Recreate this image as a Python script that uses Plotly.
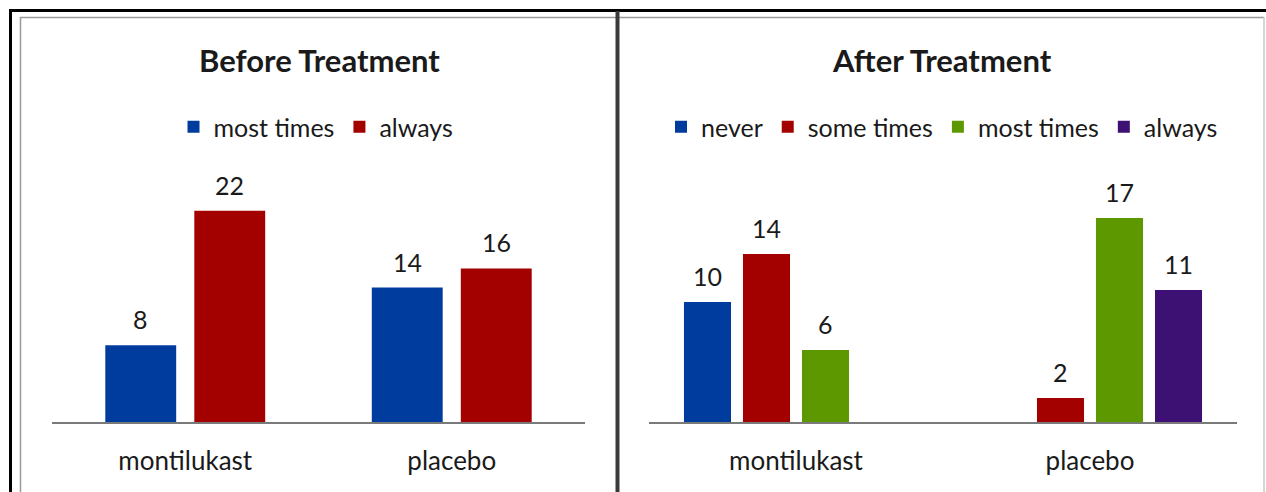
import plotly.graph_objects as go

W, H = 1266, 492

# ---------------- data ----------------
categories = ["montilukast", "placebo"]

before_series = ["most times", "always"]
before_most_times = [8, 14]
before_always = [22, 16]

after_series = ["never", "some times", "most times", "always"]
after_never = [10, None]
after_some_times = [14, 2]
after_most_times = [6, 17]
after_always = [None, 11]

# ---------------- styles ----------------
BLUE = "#003C9E"
RED = "#A30000"
GREEN = "#5E9800"
PURPLE = "#3D1173"
TEXT = "#1a1a1a"
FONT = "Lato, 'Open Sans', sans-serif"

# bar geometry in category units
L_BAR_W, L_STEP = 0.266, 0.334
R_BAR_W, R_STEP = 0.160, 0.2007


def px_x(x):
    return x / W


def px_y(y):
    return 1 - y / H


fig = go.Figure()

before = [(before_series[0], before_most_times, BLUE),
          (before_series[1], before_always, RED)]
after = [(after_series[0], after_never, BLUE),
         (after_series[1], after_some_times, RED),
         (after_series[2], after_most_times, GREEN),
         (after_series[3], after_always, PURPLE)]

annotations = []


def add_group(series, xaxis, yaxis, legend, bw, step):
    n = len(series)
    for k, (name, vals, col) in enumerate(series):
        center = (k - (n - 1) / 2) * step
        off = center - bw / 2
        xs = list(range(len(categories)))
        fig.add_trace(go.Bar(
            x=xs, y=vals, name=name, marker=dict(color=col, line=dict(width=0)),
            width=bw, offset=off, xaxis=xaxis, yaxis=yaxis, legend=legend,
            hoverinfo="skip"))
        for xi, v in zip(xs, vals):
            if v is None:
                continue
            annotations.append(dict(
                x=xi + center, y=v, xref=xaxis, yref=yaxis, text=str(v),
                showarrow=False, yanchor="bottom", yshift=9,
                font=dict(size=25, color=TEXT, family=FONT)))


add_group(before, "x", "y", "legend", L_BAR_W, L_STEP)
add_group(after, "x2", "y2", "legend2", R_BAR_W, R_STEP)

axis_common = dict(
    tickmode="array", tickvals=[0, 1], ticktext=categories,
    range=[-0.5, 1.5], showgrid=False, zeroline=False,
    showline=True, linecolor="#7a7a7a", linewidth=2,
    ticks="outside", ticklen=15, tickcolor="rgba(0,0,0,0)",
    tickfont=dict(size=26, color=TEXT, family=FONT), fixedrange=True)

y_bottom = px_y(422)
y_top = px_y(150)

legend_common = dict(orientation="h", xanchor="center", yanchor="middle",
                     font=dict(size=25, color=TEXT, family=FONT),
                     bgcolor="rgba(0,0,0,0)", itemclick=False,
                     itemdoubleclick=False)

fig.update_layout(
    width=W, height=H, margin=dict(l=0, r=0, t=0, b=0),
    paper_bgcolor="white", plot_bgcolor="white",
    barmode="overlay", showlegend=True,
    font=dict(family=FONT, color=TEXT),
    xaxis=dict(domain=[px_x(52), px_x(585)], anchor="y", **axis_common),
    xaxis2=dict(domain=[px_x(649), px_x(1237)], anchor="y2", **axis_common),
    yaxis=dict(domain=[y_bottom, y_top], range=[0, (422 - 150) / 9.6],
               visible=False, fixedrange=True),
    yaxis2=dict(domain=[y_bottom, y_top], range=[0, (422 - 150) / 12.0],
                visible=False, fixedrange=True),
    legend=dict(x=px_x(316), y=px_y(127), **legend_common),
    legend2=dict(x=px_x(942), y=px_y(127), **legend_common),
)

# titles
annotations.append(dict(text="<b>Before Treatment</b>", x=px_x(319), y=px_y(60),
                        xref="paper", yref="paper", showarrow=False,
                        xanchor="center", yanchor="middle",
                        font=dict(size=31, color=TEXT, family=FONT)))
annotations.append(dict(text="<b>After Treatment</b>", x=px_x(942), y=px_y(60),
                        xref="paper", yref="paper", showarrow=False,
                        xanchor="center", yanchor="middle",
                        font=dict(size=31, color=TEXT, family=FONT)))
fig.update_layout(annotations=annotations)

# frame
shapes = [
    # outer black frame (top and left)
    dict(type="line", xref="paper", yref="paper", x0=px_x(9), x1=1.01,
         y0=px_y(10.5), y1=px_y(10.5), line=dict(color="black", width=3)),
    dict(type="line", xref="paper", yref="paper", x0=px_x(10.5), x1=px_x(10.5),
         y0=px_y(9), y1=-0.01, line=dict(color="black", width=3)),
    # inner grey frame
    dict(type="line", xref="paper", yref="paper", x0=px_x(20), x1=px_x(1264),
         y0=px_y(17.5), y1=px_y(17.5), line=dict(color="#9a9a9a", width=1.5)),
    dict(type="line", xref="paper", yref="paper", x0=px_x(20.5), x1=px_x(20.5),
         y0=px_y(17), y1=-0.01, line=dict(color="#9a9a9a", width=1.5)),
    dict(type="line", xref="paper", yref="paper", x0=px_x(1264), x1=px_x(1264),
         y0=px_y(17), y1=-0.01, line=dict(color="#c8c8c8", width=1.5)),
    # divider
    dict(type="line", xref="paper", yref="paper", x0=px_x(617.5), x1=px_x(617.5),
         y0=px_y(11), y1=-0.01, line=dict(color="#3a3a3a", width=4)),
]
fig.update_layout(shapes=shapes)

fig.write_html("out.html", config={"displayModeBar": False})
